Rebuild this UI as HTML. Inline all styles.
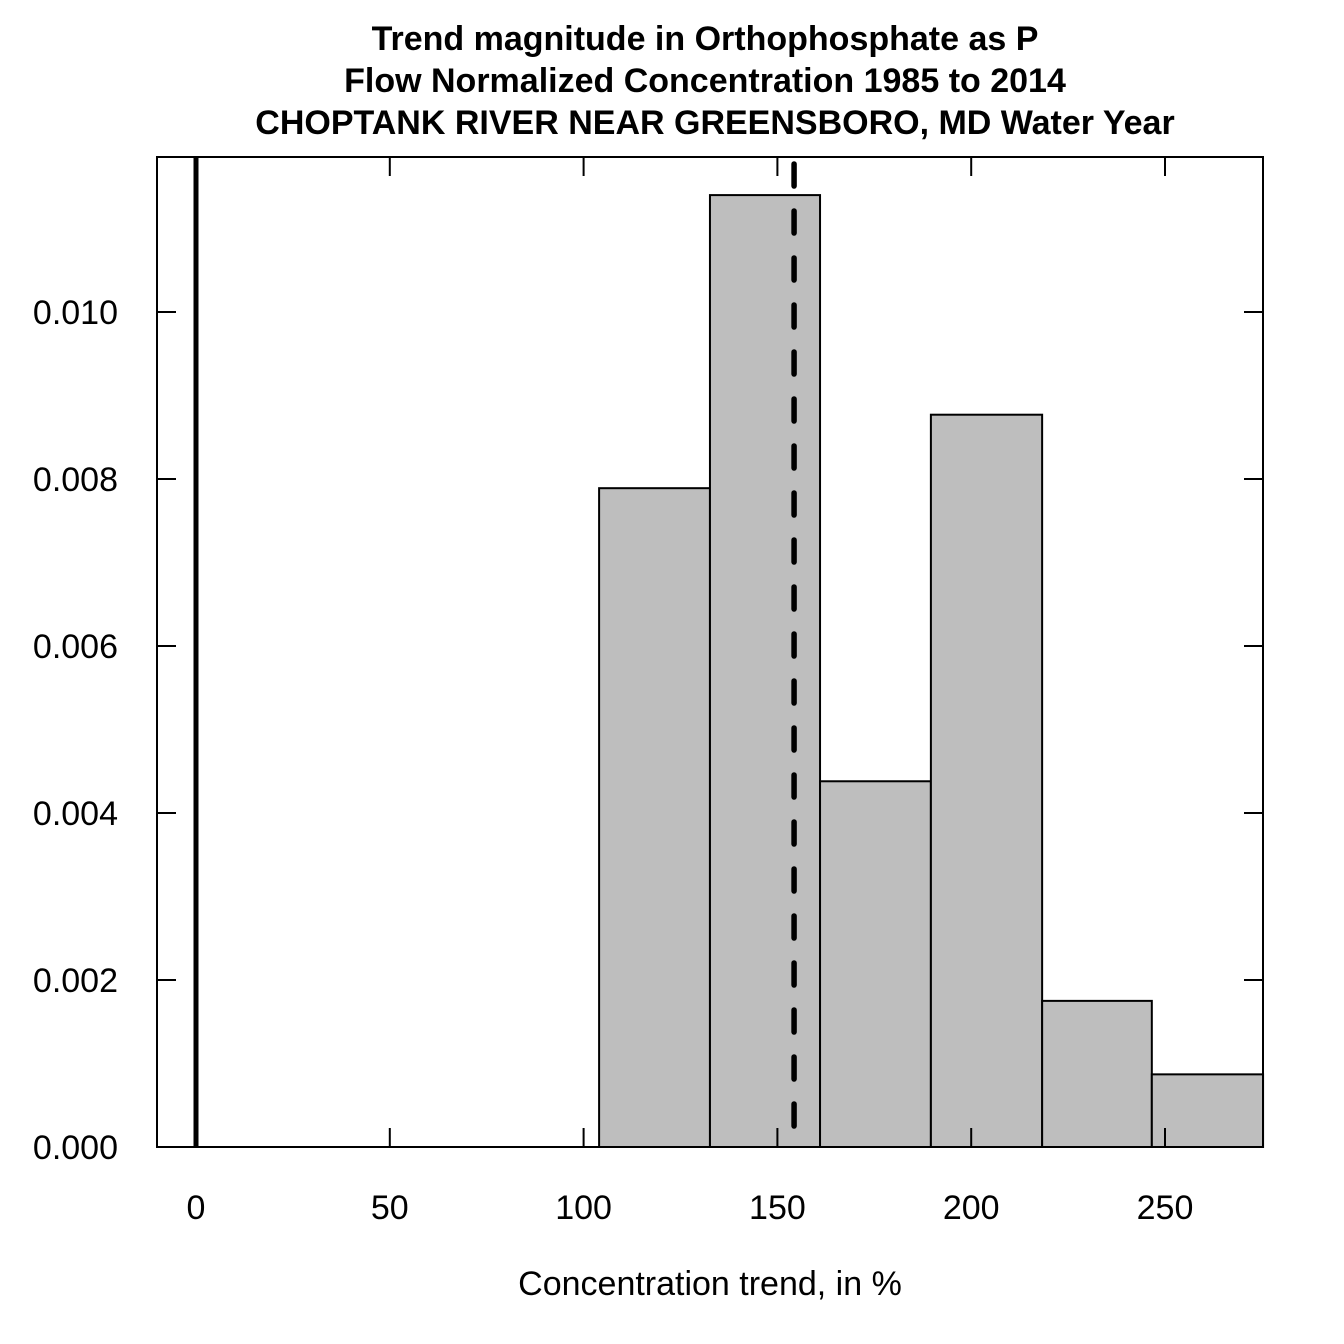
<!DOCTYPE html>
<html><head><meta charset="utf-8"><style>
html,body{margin:0;padding:0;background:#fff;}
svg{display:block;font-family:"Liberation Sans",Arial,sans-serif;}
</style></head><body>
<svg id="chart" width="1344" height="1344" viewBox="0 0 1344 1344" xmlns="http://www.w3.org/2000/svg">
<g font-weight="bold" font-size="34" text-anchor="middle">
<text x="705" y="50">Trend magnitude in Orthophosphate as P</text>
<text x="705" y="92">Flow Normalized Concentration 1985 to 2014</text>
<text x="715" y="134">CHOPTANK RIVER NEAR GREENSBORO, MD Water Year</text>
</g>
<g id="bars"></g>
<g id="lines"></g>
<rect x="157" y="157" width="1106" height="990" fill="none" stroke="#000" stroke-width="2"/>
<g id="ticks"></g>
<text x="710" y="1295" font-size="34" text-anchor="middle">Concentration trend, in %</text>
</svg>
<script>
const binEdges = [104.0, 132.6, 161.0, 189.6, 218.3, 246.6, 275.3];
const densities = [0.00789, 0.01140, 0.00438, 0.00877, 0.00175, 0.00087];
const xTicks = [0, 50, 100, 150, 200, 250];
const yTicks = [0, 0.002, 0.004, 0.006, 0.008, 0.010];
const yTickLabels = ["0.000", "0.002", "0.004", "0.006", "0.008", "0.010"];
const zeroLine = 0;
const medianTrend = 154.3;

const NS = "http://www.w3.org/2000/svg";
const X = v => 196 + v * 3.876;
const Y = v => 1147 - v * 83500;
function mk(tag, attrs, parent) {
  const e = document.createElementNS(NS, tag);
  for (const k in attrs) e.setAttribute(k, attrs[k]);
  parent.appendChild(e);
  return e;
}
const bars = document.getElementById('bars');
densities.forEach((d, i) => {
  const r = mk('rect', {x: X(binEdges[i]), y: Y(d), width: X(binEdges[i+1]) - X(binEdges[i]), height: Y(0) - Y(d), fill: '#bebebe', stroke: '#000', 'stroke-width': 2}, bars);
  
  
});
const lines = document.getElementById('lines');
const zl = mk('line', {x1: X(zeroLine), x2: X(zeroLine), y1: 157, y2: 1147, stroke: '#000', 'stroke-width': 5}, lines);


const ml = mk('line', {x1: X(medianTrend), x2: X(medianTrend), y1: 164, y2: 1145, stroke: '#000', 'stroke-width': 5.5, 'stroke-dasharray': '22 25', 'stroke-linecap': 'round'}, lines);


const ticks = document.getElementById('ticks');
xTicks.forEach(v => {
  const x = X(v);
  const t1 = mk('line', {x1: x, x2: x, y1: 1147, y2: 1128, stroke: '#000', 'stroke-width': 2}, ticks);
  
  
  const t2 = mk('line', {x1: x, x2: x, y1: 157, y2: 176, stroke: '#000', 'stroke-width': 2}, ticks);
  
  
  const l = mk('text', {x: x, y: 1219, 'font-size': 34, 'text-anchor': 'middle'}, ticks);
  l.textContent = v;
  
  
});
yTicks.forEach((v, i) => {
  const y = Y(v);
  const t1 = mk('line', {x1: 157, x2: 176, y1: y, y2: y, stroke: '#000', 'stroke-width': 2}, ticks);
  
  
  const t2 = mk('line', {x1: 1263, x2: 1244, y1: y, y2: y, stroke: '#000', 'stroke-width': 2}, ticks);
  
  
  const l = mk('text', {x: 118, y: y + 12, 'font-size': 34, 'text-anchor': 'end'}, ticks);
  l.textContent = yTickLabels[i];
  
  
});
</script>
</body></html>
